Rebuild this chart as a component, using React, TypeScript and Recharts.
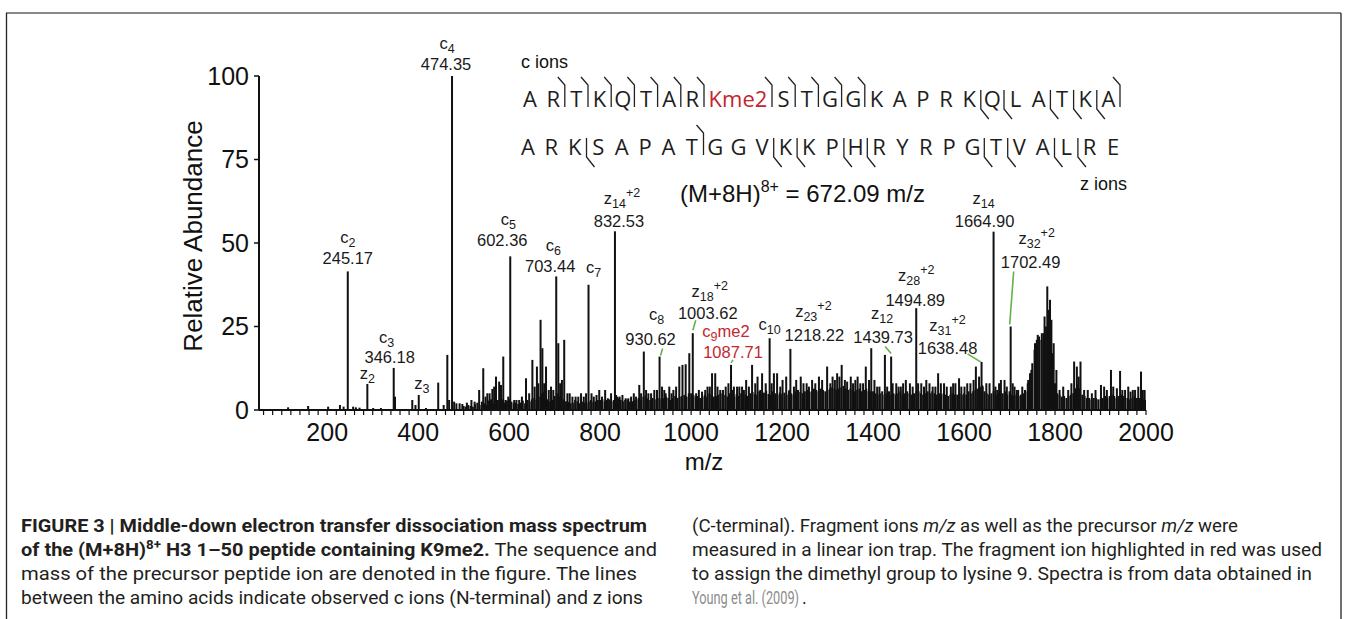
import { ComposedChart, Bar, XAxis, YAxis, ReferenceDot } from 'recharts';

const ARIAL = '"Liberation Sans", Arial, Helvetica, sans-serif';
const SEQ_FONT = '"Open Sans", "Noto Sans", sans-serif';
const CAPTION_FONT = 'Roboto, "Liberation Sans", sans-serif';

// annotated fragment ions (m/z, relative abundance)
const ionMz = [245.17, 288.2, 346.18, 401.2, 474.35, 602.36, 703.44, 774.4, 832.53, 930.62, 1003.62, 1087.71, 1172.6, 1218.22, 1439.73, 1494.89, 1638.48, 1664.9, 1702.49];
const ionIntensity = [41.5, 7.8, 12.6, 4.5, 100, 46, 40, 37.5, 53.5, 16, 23, 13.5, 21.5, 18.3, 16, 30.5, 14.4, 53.4, 25];
const ionNames = ['c2', 'z2', 'c3', 'z3', 'c4', 'c5', 'c6', 'c7', 'z14+2', 'c8', 'z18+2', 'c9me2', 'c10', 'z23+2', 'z12', 'z28+2', 'z31+2', 'z14', 'z32+2'];
const ionMasses = ['245.17', '', '346.18', '', '474.35', '602.36', '703.44', '', '832.53', '930.62', '1003.62', '1087.71', '', '1218.22', '1439.73', '1494.89', '1638.48', '1664.90', '1702.49'];

// other peaks [m/z, abundance]
const minorPeaks: [number, number][] = [
  [114, 0.8], [158, 1.2], [202, 1], [228, 1.5], [236, 1], [257, 1], [263, 0.8], [271, 0.7], [301, 0.6], [318, 0.6],
  [349, 4], [387, 3], [394, 1.5], [417, 0.6], [444, 8.2], [456, 1.5], [464, 16.5], [468, 3], [479, 2.5], [484, 2],
  [491, 2], [497, 1.8], [507, 2.2], [517, 3], [524, 2.5], [534, 6], [543, 12.5], [548, 4], [552, 5], [557, 5],
  [563, 6.3], [567, 7], [571, 10], [578, 8.5], [582, 7.5], [587, 16], [592, 3], [598, 4], [611, 3], [616, 3],
  [622, 3], [628, 4], [637, 9.5], [644, 5], [651, 15], [656, 7], [661, 13], [664, 8], [669, 27], [673, 18.5],
  [677, 8], [681, 13], [687, 6], [692, 7], [697, 6], [708, 20], [712, 8], [716, 9], [721, 21], [728, 5],
  [733, 5], [739, 4], [746, 4], [752, 4], [758, 5], [764, 4], [769, 5], [781, 5], [786, 4], [792, 4.5],
  [798, 6], [804, 4], [811, 6], [817, 3.5], [824, 5], [838, 4], [843, 4], [849, 4.5], [856, 3.5], [862, 3.5],
  [868, 4], [874, 5], [879, 4], [886, 7.5], [890, 5], [896, 17.5], [901, 6], [906, 5], [912, 5], [919, 6],
  [925, 6], [936, 7], [941, 6], [944, 5], [952, 7], [957, 5], [961, 6], [967, 7], [974, 13], [981, 13.5],
  [988, 13.7], [996, 17], [1011, 5], [1017, 6], [1024, 5.5], [1031, 6], [1036, 7], [1041, 7], [1046, 11], [1053, 11],
  [1058, 7], [1064, 6], [1070, 6], [1076, 7], [1082, 8], [1091, 6], [1094, 7], [1101, 7], [1106, 7], [1112, 7],
  [1116, 6], [1121, 9], [1127, 7], [1134, 13.5], [1141, 8], [1146, 10], [1152, 6], [1156, 11], [1164, 8], [1177, 8],
  [1182, 11], [1189, 11], [1196, 7], [1201, 9], [1209, 10], [1216, 6], [1226, 7], [1231, 9], [1241, 10], [1247, 8],
  [1254, 8], [1259, 7], [1266, 9], [1273, 8], [1281, 10], [1288, 9], [1299, 13], [1306, 8], [1311, 10], [1316, 9],
  [1321, 11], [1326, 10], [1331, 13.5], [1338, 9], [1343, 8.5], [1351, 10], [1356, 8], [1361, 9], [1366, 10], [1372, 8],
  [1378, 8], [1384, 13], [1391, 9], [1396, 18.5], [1403, 9], [1409, 7], [1414, 7], [1426, 16.5], [1431, 7], [1443, 8],
  [1451, 8], [1456, 7], [1461, 7], [1466, 8], [1472, 9], [1481, 8], [1487, 7], [1499, 8], [1506, 8], [1512, 7],
  [1517, 9], [1524, 8], [1531, 7], [1537, 7], [1543, 11], [1549, 8], [1556, 8], [1562, 7], [1571, 7], [1576, 8],
  [1581, 8], [1589, 9.5], [1594, 7], [1601, 7], [1607, 8], [1614, 8], [1621, 9], [1626, 13], [1633, 10], [1641, 7],
  [1649, 8], [1656, 8], [1669, 7], [1673, 6], [1677, 8], [1681, 9], [1689, 9], [1694, 7], [1707, 8], [1711, 7],
  [1716, 6], [1719, 6], [1728, 7], [1734, 6], [1741, 9], [1748, 12], [1756, 20], [1762, 22.5], [1771, 23], [1777, 28],
  [1783, 37], [1786, 30], [1789, 33], [1792, 27], [1797, 20], [1803, 12], [1810, 6], [1818, 7], [1829, 6], [1836, 8],
  [1842, 14.5], [1848, 13], [1852, 10], [1856, 14.5], [1864, 6], [1872, 6], [1881, 5], [1889, 6], [1901, 7.5], [1908, 7],
  [1914, 6], [1923, 12], [1928, 7], [1936, 6.5], [1943, 11.7], [1948, 6], [1954, 6], [1961, 7], [1966, 5.5], [1971, 6],
  [1976, 6], [1983, 7], [1989, 11.5], [1993, 6], [1997, 6],
];

// baseline chemical noise, one value every 5 m/z from 500 to 2000
const noiseStartMz = 500;
const noiseStepMz = 5;
const noiseLevels = [
  1.2, 1, 1.5, 1.2, 1, 1.8, 2.2, 1.5, 2.5, 2, 1.5, 2.8, 3.2, 2, 3.5, 3, 2.5, 3.2, 2.2, 2.8,
  3.2, 2.5, 2, 2.2, 1.8, 2.2, 2.8, 2, 3, 2.6, 3.2, 3.6, 3, 4, 5, 5.5, 4, 3.2, 2.6, 3,
  4.2, 5, 4, 3, 3.2, 2.6, 2.4, 2, 2.2, 3, 2.6, 2, 2.5, 2.2, 2, 2.6, 3, 2.4, 2.6, 3,
  3, 3.2, 2.6, 3, 3.2, 2.6, 3, 4.5, 3.5, 3, 2.6, 3, 3.2, 2.5, 2.6, 3, 3.2, 3.6, 3, 4,
  4.2, 3.5, 3, 3.6, 3.2, 3, 3.6, 3.2, 3.5, 4, 3.6, 3, 3.5, 4.2, 3.6, 4, 4.2, 4.5, 4, 5,
  5, 4.5, 4, 4.2, 3.6, 4, 4.5, 4, 5, 4.5, 4, 4.2, 4.6, 5, 4, 4.5, 4, 5, 4.5, 4,
  4.8, 4.2, 5, 5.2, 4.6, 4.2, 5, 5.4, 4.8, 4.6, 5.6, 4.8, 5.2, 5.8, 4.8, 4.6, 5.6, 5, 4.6, 5.2,
  4.8, 5.2, 4.6, 5.6, 5, 4.6, 5.6, 6, 5.4, 5, 5.6, 6, 5.4, 5.6, 6.4, 6, 5.6, 6.4, 6, 5.6,
  6, 6.4, 6.8, 6.4, 6, 6.4, 6.8, 7.2, 6.4, 6, 6.4, 6, 5.6, 6, 6.4, 5.6, 6, 6.4, 5.6, 5.6,
  5.6, 5, 4.6, 5, 5.6, 4.6, 5, 5.6, 4.6, 5, 4.6, 5, 5.6, 4.6, 5, 5.6, 5, 4.6, 5, 5.6,
  5.6, 5, 4.6, 5, 5.6, 5, 5.6, 5, 4.6, 5, 4.6, 5, 4.6, 4.2, 4.6, 5, 4.6, 4.6, 5, 4.6,
  5, 4.6, 5.6, 5, 5.6, 6, 6.4, 7, 7.4, 5.6, 5, 4.6, 5, 5.6, 4.6, 5, 5.6, 5, 5.6, 4.6,
  5.6, 4.6, 4.2, 4.6, 4.2, 4.6, 5, 5.6, 8, 11, 14, 18, 21, 22, 21, 23, 25, 26, 25, 17,
  8, 5, 4.5, 4, 4.2, 3.6, 4.2, 4.6, 5, 6.5, 7.5, 6.5, 4.6, 4.2, 3.6, 3.6, 3.2, 3.6, 3.6, 3.2,
  3.2, 3.6, 4.2, 3.6, 4.2, 4.6, 4.2, 3.6, 4.2, 4.6, 4.2, 3.6, 3.6, 3.2, 3.6, 4.2, 3.6, 3.6, 3.2, 3.2,
  3,
];

const majorTicks = [200, 400, 600, 800, 1000, 1200, 1400, 1600, 1800, 2000];
const yTicks = [0, 25, 50, 75, 100];

const xTicks: number[] = [];
for (let t = 60; t <= 2000; t += 20) xTicks.push(t);

// peptide sequence, marker after each residue: c = c ion, z = z ion
const row1 = ['A', 'R', 'T', 'K', 'Q', 'T', 'A', 'R', 'Kme2', 'S', 'T', 'G', 'G', 'K', 'A', 'P', 'R', 'K', 'Q', 'L', 'A', 'T', 'K', 'A'];
const row1Cuts = ['', 'c', 'c', 'c', 'c', 'c', 'c', 'c', 'c', 'c', 'c', 'c', 'c', '', '', '', '', 'z', 'z', '', 'z', 'z', 'z', 'c'];
const row2 = ['A', 'R', 'K', 'S', 'A', 'P', 'A', 'T', 'G', 'G', 'V', 'K', 'K', 'P', 'H', 'R', 'Y', 'R', 'P', 'G', 'T', 'V', 'A', 'L', 'R', 'E'];
const row2Cuts = ['', '', 'z', '', '', '', '', 'c', '', '', 'z', 'z', '', 'z', 'z', '', '', '', '', 'z', 'z', '', 'z', 'z', '', ''];

// label placement relative to the peak top: name dx, dy, mass dx, dy
const labelOffsets: [number, number, number, number][] = [
  [0, -28, 0, -7], [0, -5, 0, 0], [-7, -25, -4, -5], [3, -6, 0, 0], [-5, -27, -6, -6],
  [-2, -31, -8, -10], [-3, -25, -6, -4], [5, -12, 0, 0], [7, -27, 4, -4], [-3, -37, -9, -12],
  [17, -36, 15, -14], [-5, -28, 2, -7], [0, -8, 0, 0], [23, -32, 24, -8], [-9, -38, -8, -14],
  [0, -27, -1, -2], [-34, -31, -34, -8], [-10, -28, -9, -5], [26, -83, 20, -59],
];
const leaderLines: Record<number, [number, number, number, number]> = {
  9: [3, -8, 1, -1],
  10: [3, -13, 0, -3],
  11: [2, -5, 0, -2],
  14: [-6, -10, 0, -3],
  16: [-14, -8, -1, 0],
  18: [3, -55, -1, -2],
};

const spectrum = [
  ...ionMz.map((mz, i) => ({ mz, intensity: ionIntensity[i] })),
  ...minorPeaks.map(([mz, intensity]) => ({ mz, intensity })),
  ...noiseLevels.map((intensity, i) => ({ mz: noiseStartMz + i * noiseStepMz, intensity })),
].sort((a, b) => a.mz - b.mz);

function IonLabel({ cx, cy, index }: { cx: number; cy: number; index: number }) {
  const [dxName, dyName, dxNum, dyNum] = labelOffsets[index];
  const [, letter, sub, rest, sup] = ionNames[index].match(/^([a-z])(\d+)(me\d)?(\+\d)?$/) || [];
  const color = rest ? '#c1272d' : '#1a1a1a';
  const leader = leaderLines[index];
  return (
    <g fontFamily={ARIAL} fill={color}>
      {leader && (
        <line x1={cx + leader[0]} y1={cy + leader[1]} x2={cx + leader[2]} y2={cy + leader[3]} stroke="#63b246" strokeWidth={1.6} />
      )}
      <text x={cx + dxName} y={cy + dyName} textAnchor="middle" fontSize={16.5}>
        {letter}
        <tspan fontSize={12.5} dy={4}>{sub}</tspan>
        {rest && <tspan dy={-4}>{rest}</tspan>}
        {sup && <tspan fontSize={12.5} dy={-11}>{sup}</tspan>}
      </text>
      {ionMasses[index] && (
        <text x={cx + dxNum} y={cy + dyNum} textAnchor="middle" fontSize={16.5}>
          {ionMasses[index]}
        </text>
      )}
    </g>
  );
}

function SequenceRow({ residues, cuts, x0, step, wide, baseline }: {
  residues: string[]; cuts: string[]; x0: number; step: number; wide: number; baseline: number;
}) {
  const widths = residues.map((r) => (r.length > 1 ? wide : step));
  let pos = x0 - widths[0] / 2;
  const items = residues.map((r, i) => {
    const left = pos;
    pos += widths[i];
    return { r, center: left + widths[i] / 2, right: pos, cut: cuts[i] };
  });
  return (
    <g>
      {items.map((it, i) => (
        <g key={i}>
          <text x={it.center} y={baseline} textAnchor="middle" fontFamily={SEQ_FONT} fontSize={22}
            fill={it.r.length > 1 ? '#c1272d' : '#1d1d1b'}>{it.r}</text>
          {it.cut === 'c' && (
            <path d={`M ${it.right - 7} ${baseline - 30} L ${it.right} ${baseline - 22} L ${it.right} ${baseline}`}
              fill="none" stroke="#222" strokeWidth={1.3} />
          )}
          {it.cut === 'z' && (
            <path d={`M ${it.right} ${baseline - 17} L ${it.right} ${baseline + 2} L ${it.right + 8} ${baseline + 12}`}
              fill="none" stroke="#222" strokeWidth={1.3} />
          )}
        </g>
      ))}
    </g>
  );
}

export default function App() {
  return (
    <div style={{ position: 'relative', width: 1348, height: 619, background: '#fff', overflow: 'hidden' }}>
      <style>{'body{margin:0}'}</style>
      <div style={{ position: 'absolute', left: 0, top: 0 }}>
        <ComposedChart width={1348} height={480} data={spectrum} margin={{ top: 76, right: 202, bottom: 30, left: 200 }}>
          <XAxis
            dataKey="mz"
            type="number"
            domain={[50, 2000]}
            allowDataOverflow
            ticks={xTicks}
            interval={0}
            tickFormatter={(v: number) => (majorTicks.includes(v) ? String(v) : '')}
            tickSize={5}
            tickMargin={8}
            height={40}
            axisLine={{ stroke: '#111', strokeWidth: 2 }}
            tickLine={{ stroke: '#111', strokeWidth: 1.2 }}
            tick={{ fill: '#111', fontSize: 25, fontFamily: ARIAL }}
          />
          <YAxis
            type="number"
            domain={[0, 100]}
            ticks={yTicks}
            interval={0}
            width={59}
            tickSize={5}
            tickMargin={5}
            axisLine={{ stroke: '#111', strokeWidth: 2 }}
            tickLine={{ stroke: '#111', strokeWidth: 1.5 }}
            tick={{ fill: '#111', fontSize: 25, fontFamily: ARIAL }}
          />
          <Bar
            dataKey="intensity"
            fill="#111"
            barSize={2}
            isAnimationActive={false}
            shape={(p: any) => (
              <rect x={p.x + p.width / 2 - 1} y={p.y} width={2} height={Math.max(p.height, 0)} fill="#111" />
            )}
          />
          {ionMz.map((mz, i) => (
            <ReferenceDot
              key={i}
              x={mz}
              y={ionIntensity[i]}
              r={1}
              fill="none"
              stroke="none"
              shape={(p: any) => <IonLabel cx={p.cx} cy={p.cy} index={i} />}
            />
          ))}
        </ComposedChart>
      </div>
      <svg width={1348} height={619} style={{ position: 'absolute', left: 0, top: 0, pointerEvents: 'none' }}>
        <line x1={6} y1={13} x2={1341} y2={13} stroke="#888" strokeWidth={2} />
        <line x1={6.5} y1={13} x2={6.5} y2={619} stroke="#222" strokeWidth={1.3} />
        <line x1={1341} y1={13} x2={1341} y2={619} stroke="#222" strokeWidth={1.3} />

        <text transform="translate(202 236) rotate(-90)" textAnchor="middle" fontFamily={ARIAL} fontSize={26} fill="#111">
          Relative Abundance
        </text>
        <text x={704} y={470} textAnchor="middle" fontFamily={ARIAL} fontSize={24} fill="#111">m/z</text>

        <text x={521} y={68} fontFamily={ARIAL} fontSize={18} fill="#111">c ions</text>
        <text x={1127} y={190} textAnchor="end" fontFamily={ARIAL} fontSize={18} fill="#111">z ions</text>
        <text x={680} y={202} fontFamily={ARIAL} fontSize={24} fill="#111">
          (M+8H)<tspan fontSize={16} dy={-10}>8+</tspan><tspan dy={10}> = 672.09 m/z</tspan>
        </text>

        <SequenceRow residues={row1} cuts={row1Cuts} x0={530} step={23.2} wide={68} baseline={107} />
        <SequenceRow residues={row2} cuts={row2Cuts} x0={528} step={23.4} wide={23.4} baseline={155} />

        <g fontFamily={CAPTION_FONT} fontSize={18} fill="#231f20">
          <text x={21} y={532} textLength={626} lengthAdjust="spacingAndGlyphs" fontWeight={700}>
            FIGURE 3 | Middle-down electron transfer dissociation mass spectrum
          </text>
          <text x={21} y={556} textLength={636} lengthAdjust="spacingAndGlyphs">
            <tspan fontWeight={700}>of the (M+8H)</tspan>
            <tspan fontWeight={700} fontSize={12} dy={-7}>8+</tspan>
            <tspan fontWeight={700} dy={7}> H3 1–50 peptide containing K9me2.</tspan>
            <tspan>  The sequence and</tspan>
          </text>
          <text x={21} y={580} textLength={616} lengthAdjust="spacingAndGlyphs">
            mass of the precursor peptide ion are denoted in the figure. The lines
          </text>
          <text x={21} y={604} textLength={622} lengthAdjust="spacingAndGlyphs">
            between the amino acids indicate observed c ions (N-terminal) and z ions
          </text>
          <text x={692} y={532} textLength={546} lengthAdjust="spacingAndGlyphs">
            (C-terminal). Fragment ions <tspan fontStyle="italic">m/z</tspan> as well as the precursor{' '}
            <tspan fontStyle="italic">m/z</tspan> were
          </text>
          <text x={692} y={556} textLength={630} lengthAdjust="spacingAndGlyphs">
            measured in a linear ion trap. The fragment ion highlighted in red was used
          </text>
          <text x={692} y={580} textLength={620} lengthAdjust="spacingAndGlyphs">
            to assign the dimethyl group to lysine 9. Spectra is from data obtained in
          </text>
          <text x={692} y={604} textLength={107} lengthAdjust="spacingAndGlyphs" fill="#8c8c8c">
            Young et al. (2009)
          </text>
          <text x={802} y={604}>.</text>
        </g>
      </svg>
    </div>
  );
}
